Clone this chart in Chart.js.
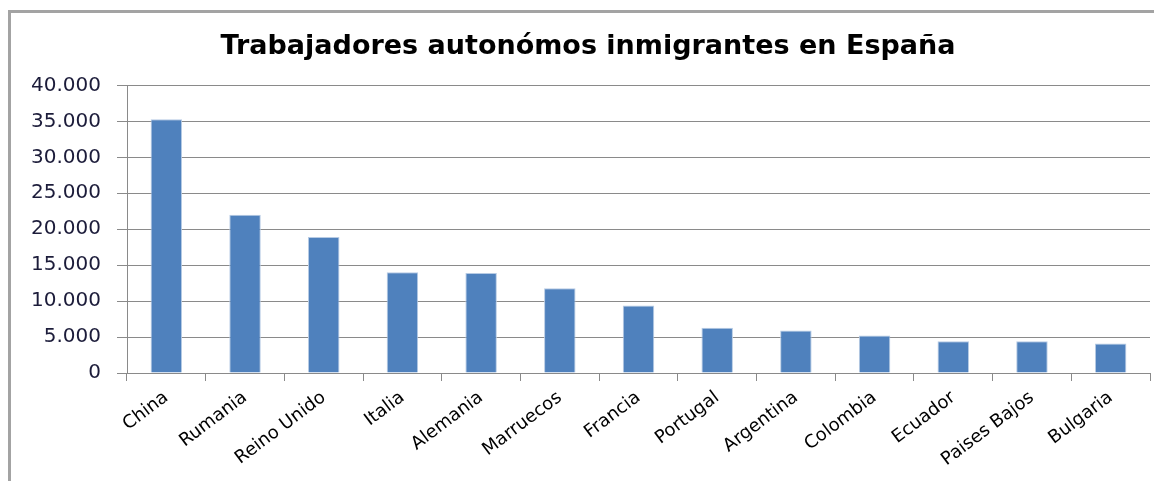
<!DOCTYPE html>
<html>
<head>
<meta charset="utf-8">
<script src="https://cdn.jsdelivr.net/npm/chart.js@4.4.1/dist/chart.umd.min.js"></script>
<style>
  body { margin: 0; background: #fff; }
  #frame {
    position: absolute; left: 8px; top: 10px; width: 1200px; height: 520px;
    border-left: 3px solid #a3a3a3; border-top: 3px solid #a3a3a3;
  }
  #wrap { position: absolute; left: 0; top: 0; width: 1154px; height: 481px; }
</style>
</head>
<body>
<div id="frame"></div>
<div id="wrap"><canvas id="bar-chart"></canvas></div>
<script>
let titleText = 'Trabajadores autonómos inmigrantes en España';

let countries = [
  'China', 'Rumania', 'Reino Unido', 'Italia', 'Alemania', 'Marruecos', 'Francia',
  'Portugal', 'Argentina', 'Colombia', 'Ecuador', 'Paises Bajos', 'Bulgaria'
];

let workers = [35300, 22000, 18900, 14000, 13900, 11800, 9400, 6300, 5900, 5200, 4400, 4400, 4100];

let yMax = 40000;
let yStep = 5000;

// 40000 -> "40.000"
let formatNumber = (v) => String(v).replace(/\B(?=(\d{3})+(?!\d))/g, '.');

let renderChart = () => {
    let ctx = document.getElementById('bar-chart');
    new Chart(ctx, {
        type: 'bar',
        data: {
            labels: countries,
            datasets: [
                {
                    label: 'Trabajadores',
                    data: workers,
                    backgroundColor: '#4f81bd',
                    borderColor: '#b7cbe4',
                    borderWidth: 1,
                    barPercentage: 0.4,
                    categoryPercentage: 1,
                },
            ],
        },
        options: {
            responsive: true,
            maintainAspectRatio: false,
            animation: false,
            layout: { padding: { left: 26, right: 4, top: 0, bottom: 0 } },
            plugins: {
                legend: { display: false },
                tooltip: { enabled: false },
                title: {
                    display: true,
                    text: titleText,
                    color: '#000',
                    font: { family: 'DejaVu Sans', size: 27, weight: 'bold' },
                    padding: { top: 31, bottom: 22 },
                },
            },
            scales: {
                x: {
                    grid: {
                        display: true,
                        drawOnChartArea: false,
                        drawTicks: true,
                        tickLength: 8,
                        color: '#8a8a8a',
                    },
                    border: { color: '#8a8a8a' },
                    ticks: {
                        color: '#000',
                        font: { family: 'DejaVu Sans', size: 18 },
                        minRotation: 37,
                        maxRotation: 37,
                        padding: 6,
                        autoSkip: false,
                    },
                    afterFit: (scale) => { scale.height = 108; },
                },
                y: {
                    min: 0,
                    max: yMax,
                    grid: {
                        color: '#8a8a8a',
                        tickLength: 10,
                    },
                    border: { color: '#8a8a8a' },
                    ticks: {
                        stepSize: yStep,
                        color: '#1c1c3a',
                        font: { family: 'DejaVu Sans', size: 20 },
                        padding: 16,
                        callback: (v) => formatNumber(v),
                    },
                    afterFit: (scale) => { scale.width = 101; },
                },
            },
        },
    });
};

renderChart();
</script>
</body>
</html>
